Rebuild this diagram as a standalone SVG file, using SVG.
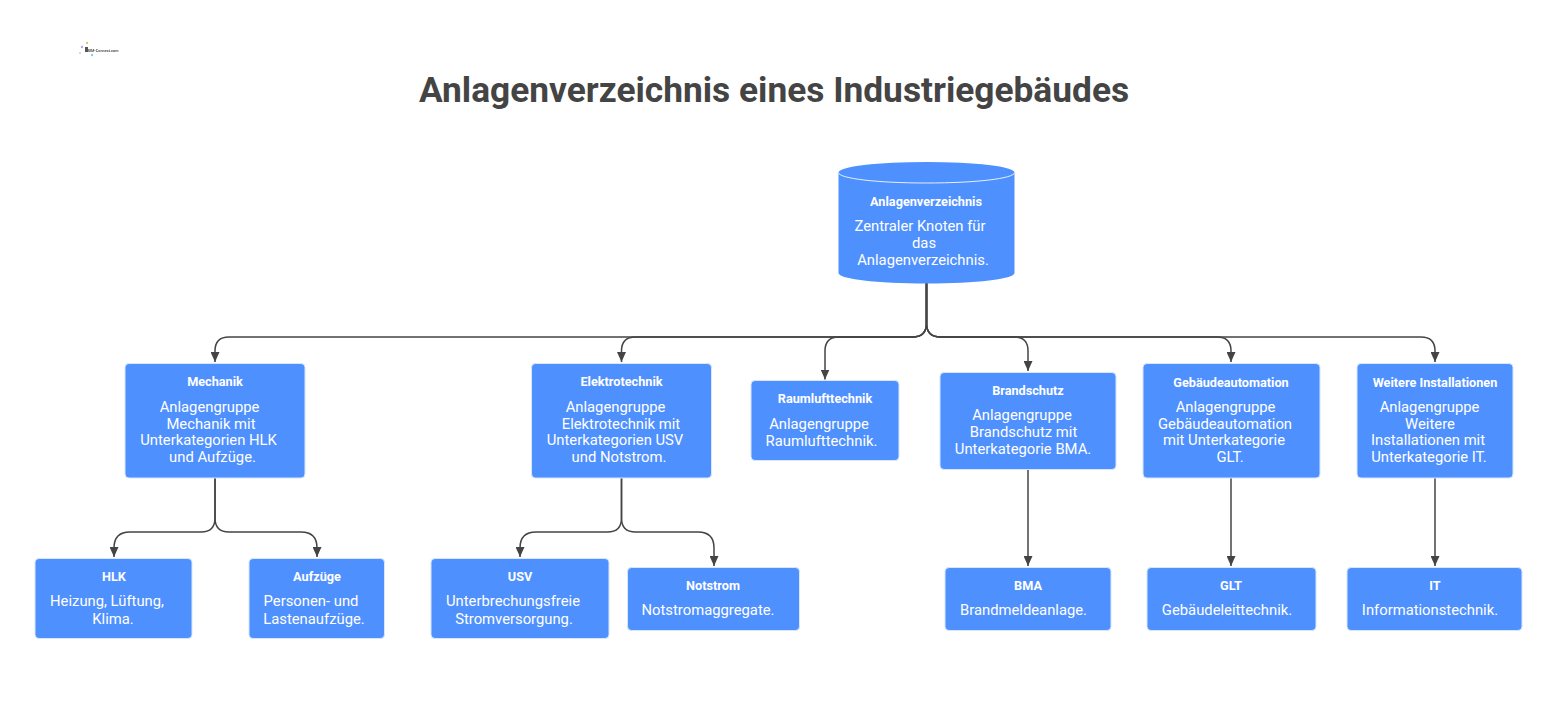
<svg xmlns="http://www.w3.org/2000/svg" width="1558" height="727" viewBox="0 0 1558 727">
<style>
text{font-family:Roboto,"Liberation Sans",sans-serif;fill:#fff;text-anchor:middle}
.h{font-size:12.7px;font-weight:700}
.b{font-size:14.8px}
.n{fill:#4f90ff;stroke:#d8e6ff;stroke-width:1}
.c{fill:none;stroke:#444;stroke-width:1.5}
</style>
<defs><marker id="a" markerUnits="userSpaceOnUse" markerWidth="10" markerHeight="9" refX="10" refY="4.500" orient="auto"><path d="M0 0L10 4.500L0 9Z" fill="#444"/></marker>
<filter id="soft" x="-10%" y="-10%" width="120%" height="120%"><feGaussianBlur stdDeviation="0.4"/></filter></defs>
<rect width="1558" height="727" fill="#fff"/>
<g id="logo" filter="url(#soft)"><circle cx="82" cy="47" r="1.200" fill="#b9a7dd"/><circle cx="87" cy="43" r="1.200" fill="#e4c96a"/><circle cx="92" cy="55" r="1.200" fill="#8ecbe8"/><circle cx="80" cy="53" r="1" fill="#c8c8e8"/><rect x="85" y="47" width="3" height="5" fill="#555"/><text x="103" y="51.500" style="font-size:3.800px;font-weight:700;fill:#555">BIM-Connect.com</text></g>
<text id="title" x="774" y="102" style="font-size:35.300px;font-weight:700;fill:#444">Anlagenverzeichnis eines Industriegebäudes</text>
<g id="connectors">
<path class="c" marker-end="url(#a)" d="M926.500 283V323Q926.500 337 912.500 337H229Q215 337 215 351V362"/>
<path class="c" marker-end="url(#a)" d="M926.500 283V323Q926.500 337 912.500 337H635.500Q621.500 337 621.500 351V362"/>
<path class="c" marker-end="url(#a)" d="M926.500 283V323Q926.500 337 912.500 337H839Q825 337 825 351V379.500"/>
<path class="c" marker-end="url(#a)" d="M926.500 283V323Q926.500 337 940.500 337H1014Q1028 337 1028 351V371"/>
<path class="c" marker-end="url(#a)" d="M926.500 283V323Q926.500 337 940.500 337H1217Q1231 337 1231 351V362"/>
<path class="c" marker-end="url(#a)" d="M926.500 283V323Q926.500 337 940.500 337H1421Q1435 337 1435 351V362"/>
<path class="c" marker-end="url(#a)" d="M215 478V518Q215 532 201 532H130Q114 532 114 548V557"/>
<path class="c" marker-end="url(#a)" d="M215 478V518Q215 532 229 532H301Q317 532 317 548V557"/>
<path class="c" marker-end="url(#a)" d="M621.500 478V518Q621.500 532 607.500 532H536Q520 532 520 548V557"/>
<path class="c" marker-end="url(#a)" d="M621.500 478V518Q621.500 532 635.500 532H698Q714 532 714 548V566"/>
<path class="c" marker-end="url(#a)" d="M1028 470V566"/>
<path class="c" marker-end="url(#a)" d="M1231 478V566"/>
<path class="c" marker-end="url(#a)" d="M1435 478V566"/>
</g>
<g id="anlagenverzeichnis"><path d="M838.500 172.500V273C838.500 279 877 283.500 926.500 283.500S1014.500 279 1014.500 273V172.500Z" fill="#4f90ff"/><ellipse cx="926.500" cy="172.500" rx="88" ry="10.500" fill="#4f90ff"/><path d="M838.500 172.500C838.500 178.500 877 183 926.500 183S1014.500 178.500 1014.500 172.500" fill="none" stroke="#e6efff" stroke-width="1"/>
<text class="h" x="926" y="206">Anlagenverzeichnis</text><text class="b" x="920" y="231">Zentraler Knoten für</text><text class="b" x="924" y="248">das</text><text class="b" x="923" y="265">Anlagenverzeichnis.</text></g>
<g id="mechanik"><rect class="n" x="125" y="363.500" width="180" height="114.500" rx="4"/><text class="h" x="215" y="386">Mechanik</text><text class="b" x="209.500" y="412">Anlagengruppe</text><text class="b" x="211" y="429">Mechanik mit</text><text class="b" x="208.500" y="445">Unterkategorien HLK</text><text class="b" x="212.500" y="462">und Aufzüge.</text></g>
<g id="elektrotechnik"><rect class="n" x="531.500" y="363.500" width="180" height="114.500" rx="4"/><text class="h" x="621.500" y="386">Elektrotechnik</text><text class="b" x="615.500" y="412">Anlagengruppe</text><text class="b" x="621" y="429">Elektrotechnik mit</text><text class="b" x="615" y="445">Unterkategorien USV</text><text class="b" x="619" y="462">und Notstrom.</text></g>
<g id="raumlufttechnik"><rect class="n" x="751" y="380.500" width="148" height="80" rx="4"/><text class="h" x="825" y="403">Raumlufttechnik</text><text class="b" x="819" y="429">Anlagengruppe</text><text class="b" x="821.500" y="446">Raumlufttechnik.</text></g>
<g id="brandschutz"><rect class="n" x="940" y="372.500" width="176" height="97" rx="4"/><text class="h" x="1028" y="395">Brandschutz</text><text class="b" x="1022" y="420">Anlagengruppe</text><text class="b" x="1023.500" y="437">Brandschutz mit</text><text class="b" x="1023" y="454">Unterkategorie BMA.</text></g>
<g id="gebaeudeautomation"><rect class="n" x="1143" y="363.500" width="177" height="114.500" rx="4"/><text class="h" x="1231" y="387">Gebäudeautomation</text><text class="b" x="1225.500" y="412">Anlagengruppe</text><text class="b" x="1225" y="429">Gebäudeautomation</text><text class="b" x="1224" y="445">mit Unterkategorie</text><text class="b" x="1230" y="462">GLT.</text></g>
<g id="weitere"><rect class="n" x="1357" y="363.500" width="156" height="114.500" rx="4"/><text class="h" x="1435" y="387">Weitere Installationen</text><text class="b" x="1429.500" y="412">Anlagengruppe</text><text class="b" x="1430" y="429">Weitere</text><text class="b" x="1428" y="445">Installationen mit</text><text class="b" x="1429" y="462">Unterkategorie IT.</text></g>
<g id="hlk"><rect class="n" x="35" y="558.500" width="157" height="80" rx="4"/><text class="h" x="114" y="581">HLK</text><text class="b" x="107" y="606">Heizung, Lüftung,</text><text class="b" x="113" y="624">Klima.</text></g>
<g id="aufzuege"><rect class="n" x="249" y="558.500" width="135.500" height="80" rx="4"/><text class="h" x="317" y="581">Aufzüge</text><text class="b" x="311" y="606">Personen- und</text><text class="b" x="314" y="624">Lastenaufzüge.</text></g>
<g id="usv"><rect class="n" x="431" y="558.500" width="178" height="80" rx="4"/><text class="h" x="520" y="581">USV</text><text class="b" x="513" y="606">Unterbrechungsfreie</text><text class="b" x="514" y="624">Stromversorgung.</text></g>
<g id="notstrom"><rect class="n" x="627.500" y="567.500" width="172" height="63" rx="4"/><text class="h" x="713" y="590">Notstrom</text><text class="b" x="708" y="615">Notstromaggregate.</text></g>
<g id="bma"><rect class="n" x="945" y="567.500" width="166" height="63" rx="4"/><text class="h" x="1028" y="590">BMA</text><text class="b" x="1023.500" y="615">Brandmeldeanlage.</text></g>
<g id="glt"><rect class="n" x="1147" y="567.500" width="169" height="63" rx="4"/><text class="h" x="1231" y="590">GLT</text><text class="b" x="1227" y="615">Gebäudeleittechnik.</text></g>
<g id="it"><rect class="n" x="1347" y="567.500" width="175" height="63" rx="4"/><text class="h" x="1435" y="590">IT</text><text class="b" x="1430" y="615">Informationstechnik.</text></g>
</svg>
